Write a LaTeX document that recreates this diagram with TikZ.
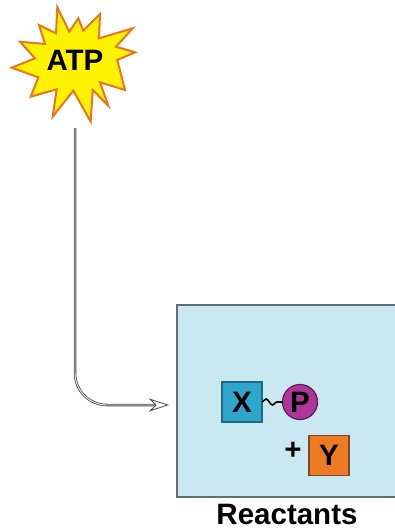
\documentclass[tikz,border=0pt]{standalone}
\usepackage{fontspec}
\setmainfont{Liberation Sans}
\usetikzlibrary{positioning, arrows.meta, decorations.pathmorphing}
\definecolor{starFill}{HTML}{fff200}
\definecolor{starLine}{HTML}{e8761e}
\definecolor{boxFill}{HTML}{c9e8f1}
\definecolor{boxLine}{HTML}{5f6f73}
\definecolor{xFill}{HTML}{2fa6cc}
\definecolor{xLine}{HTML}{1f6a80}
\definecolor{pFill}{HTML}{b0359a}
\definecolor{pLine}{HTML}{5a1f50}
\definecolor{yFill}{HTML}{ee7a26}
\definecolor{yLine}{HTML}{7a4a28}
\definecolor{shaft}{HTML}{444444}

\begin{document}
\begin{tikzpicture}[x=1pt,y=-1pt,lbl/.style={font=\bfseries\fontsize{29.5}{29.5}\selectfont, inner sep=0pt, outer sep=0pt},mol/.style={lbl, draw, line width=1.2pt, minimum size=40pt}]
\useasboundingbox (0,0) rectangle (395,531);
\clip (0,0) rectangle (395,531);
\draw[fill=starFill, draw=starLine, line width=2pt, line join=miter] (57.3,7.3)--(69.3,31.7)--(78.3,18.3)--(83.3,30.7)--(100,14)--(99,38.3)--(132.7,28.3)--(116,46.7)--(135,52.3)--(117.3,60)--(125,90)--(100,82.3)--(108.3,105.7)--(92.7,90)--(90.7,121.7)--(73.3,90.7)--(52.7,116.7)--(56.7,89.3)--(30.7,96.7)--(38.3,77.3)--(11.7,67.7)--(35,58.3)--(20,41.7)--(45,44)--(39,25)--(56,33.3)--cycle;
\node[lbl] (atp) at (75,60) {ATP};
\coordinate (atpfoot) at (75,128);
\node[draw=boxLine, fill=boxFill, line width=1.4pt, minimum width=220pt, minimum height=192pt, outer sep=0pt] (reac) at (287,401) {};
\node[lbl, below=7pt of reac] (reaclbl) {Reactants};
\node[mol, fill=xFill, draw=xLine] (xbox) at (242,402) {X};
\node[mol, fill=pFill, draw=pLine, circle, minimum size=35pt] (pcirc) at (300,402) {P};
\node[mol, fill=yFill, draw=yLine] (ybox) at (329,455.5) {Y};
\node[lbl] (plus) at (293,451) {+};
\draw[line width=1.6pt, decorate, decoration={snake, amplitude=3pt, segment length=13pt}] (xbox.east)--(pcirc.west);
\coordinate (arrowend) at (169,405);
\draw[rounded corners=32pt, double=white, double distance=0.9pt, draw=shaft, line width=0.8pt, -{Stealth[open, length=20pt, width=13pt]}] (atpfoot)--(75,405)--(arrowend);
\end{tikzpicture}
\end{document}
